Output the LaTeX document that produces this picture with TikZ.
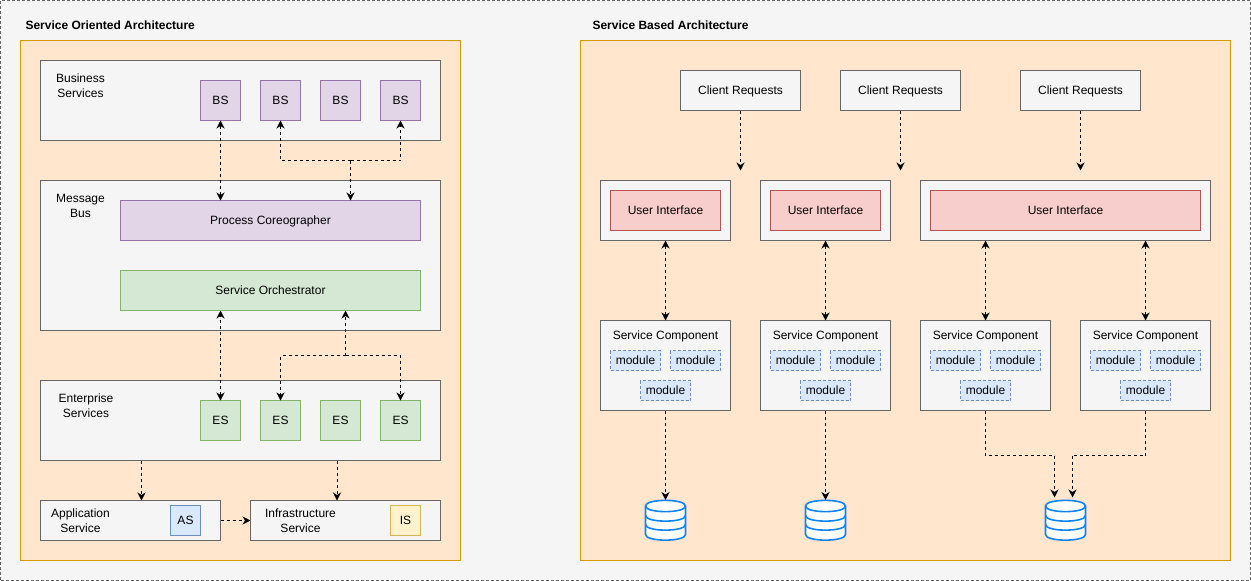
\documentclass[tikz,border=0pt]{standalone}
\usepackage{xcolor}
\usepackage{fontspec}
\setmainfont{Liberation Sans}
\usetikzlibrary{arrows.meta,positioning,calc}
\definecolor{SheetFill}{HTML}{F5F5F5}
\definecolor{SheetRule}{HTML}{666666}
\definecolor{PanelFill}{HTML}{FFE6CC}
\definecolor{PanelRule}{HTML}{D79B00}
\definecolor{PurpleFill}{HTML}{E1D5E7}
\definecolor{PurpleRule}{HTML}{9673A6}
\definecolor{GreenFill}{HTML}{D5E8D4}
\definecolor{GreenRule}{HTML}{82B366}
\definecolor{BlueFill}{HTML}{DAE8FC}
\definecolor{BlueRule}{HTML}{6C8EBF}
\definecolor{YellowFill}{HTML}{FFF2CC}
\definecolor{YellowRule}{HTML}{D6B656}
\definecolor{RedFill}{HTML}{F8CECC}
\definecolor{RedRule}{HTML}{B85450}
\definecolor{DbBlue}{HTML}{0F83F0}

\begin{document}
\begin{tikzpicture}[
  x=1pt,y=-1pt,shift={(0.5,0.5)},
  every node/.style={inner sep=0pt,outer sep=0pt,font=\fontsize{12}{15}\selectfont,align=center},
  box/.style={draw=SheetRule,fill=SheetFill,line width=1pt},
  panel/.style={draw=PanelRule,fill=PanelFill,line width=1pt,minimum width=#1,minimum height=520pt},
  title/.style={anchor=west,font=\fontsize{12}{15}\selectfont\bfseries},
  bsbox/.style={draw=PurpleRule,fill=PurpleFill,line width=1pt,minimum size=40pt},
  esbox/.style={draw=GreenRule,fill=GreenFill,line width=1pt,minimum size=40pt},
  smallbox/.style={line width=1pt,minimum size=30pt},
  uibox/.style={draw=RedRule,fill=RedFill,line width=1pt,minimum height=40pt},
  module/.style={draw=BlueRule,fill=BlueFill,line width=0.8pt,dash pattern=on 3pt off 2pt,minimum width=50pt,minimum height=20pt},
  dbnode/.style={minimum size=41pt},
  nodrop/.style={text depth=0pt},
  flow/.style={dash pattern=on 3pt off 3pt,line width=1pt,-{Stealth[length=8pt,width=8pt,inset=2.5pt]}},
  flowboth/.style={dash pattern=on 3pt off 3pt,line width=1pt,{Stealth[length=8pt,width=8pt,inset=2.5pt]}-{Stealth[length=8pt,width=8pt,inset=2.5pt]}},
  flowline/.style={dash pattern=on 3pt off 3pt,line width=1pt},
  pics/dbicon/.style={code={
    \draw[draw=DbBlue,fill=white,line width=1.6pt,line join=round]
      (-20,-14.5) -- (-20,14) .. controls (-20,21.5) and (20,21.5) .. (20,14) -- (20,-14.5)
      .. controls (20,-22) and (-20,-22) .. (-20,-14.5) -- cycle;
    \draw[draw=DbBlue,line width=1.6pt]
      (-20,-14.5) .. controls (-20,-7) and (20,-7) .. (20,-14.5)
      (-20,-5) .. controls (-20,2.5) and (20,2.5) .. (20,-5)
      (-20,4) .. controls (-20,11.5) and (20,11.5) .. (20,4);
  }}
]
\useasboundingbox (-0.5,-0.5) rectangle (1250.5,580.5);
\node[draw=SheetRule,fill=SheetFill,line width=0.8pt,dash pattern=on 3pt off 2pt,minimum width=1249.5pt,minimum height=580pt,anchor=north west] (sheet) at (0,0) {};

% left side
\node[title] (soatitle) at (25,24.5) {Service Oriented Architecture};
\node[panel=440pt] (soa) at (240,300) {};

\node[box,minimum width=400pt,minimum height=80pt] (bsgroup) at (240,100) {};
\node (bslabel) at (80,85) {Business\\Services};
\node[bsbox] (bs1) at (220,100) {BS};
\node[bsbox,right=20pt of bs1] (bs2) {BS};
\node[bsbox,right=20pt of bs2] (bs3) {BS};
\node[bsbox,right=20pt of bs3] (bs4) {BS};

\node[box,minimum width=400pt,minimum height=150pt] (bus) at (240,255) {};
\node (buslabel) at (80,205) {Message\\Bus};
\node[draw=PurpleRule,fill=PurpleFill,line width=1pt,minimum width=300pt,minimum height=40pt,nodrop] (pc) at (270,220) {Process Coreographer};
\node[draw=GreenRule,fill=GreenFill,line width=1pt,minimum width=300pt,minimum height=40pt] (orch) at (270,290) {Service Orchestrator};

\node[box,minimum width=400pt,minimum height=80pt] (esgroup) at (240,420) {};
\node (eslabel) at (85.5,405) {Enterprise\\Services};
\node[esbox] (es1) at (220,420) {ES};
\node[esbox,right=20pt of es1] (es2) {ES};
\node[esbox,right=20pt of es2] (es3) {ES};
\node[esbox,right=20pt of es3] (es4) {ES};

\node[box,minimum width=180pt,minimum height=40pt] (appgroup) at (130,520) {};
\node (applabel) at (80,520) {Application\\Service};
\node[smallbox,draw=BlueRule,fill=BlueFill] (as) at (185,520) {AS};
\node[box,minimum width=190pt,minimum height=40pt] (infragroup) at (345,520) {};
\node (infralabel) at (300,520) {Infrastructure\\Service};
\node[smallbox,draw=YellowRule,fill=YellowFill] (is) at (405,520) {IS};

\coordinate (bshub) at (350,160);
\coordinate (eshub) at (345,355);
\coordinate (astap) at (141,0);
\coordinate (istap) at (336.5,0);

\draw[flowboth] (bs1.south) -- (bs1.south |- pc.north);
\draw[flow] (bshub) -| (bs2.south);
\draw[flow] (bshub) -| (bs4.south);
\draw[flow] (bshub) -- (pc.north -| bshub);
\draw[flowboth] (es1.north) -- (es1.north |- orch.south);
\draw[flow] (eshub) -| (es2.north);
\draw[flow] (eshub) -| (es4.north);
\draw[flow] (eshub) -- (orch.south -| eshub);
\draw[flow] (esgroup.south -| astap) -- (appgroup.north -| astap);
\draw[flow] (esgroup.south -| istap) -- (infragroup.north -| istap);
\draw[flow] (appgroup.east) -- (infragroup.west);

% right side
\node[title] (sbatitle) at (592,24.5) {Service Based Architecture};
\node[panel=650pt] (sba) at (905,300) {};

\node[box,minimum width=120pt,minimum height=40pt,nodrop] (cr1) at (740,90) {Client Requests};
\node[box,minimum width=120pt,minimum height=40pt,nodrop] (cr2) at (900,90) {Client Requests};
\node[box,minimum width=120pt,minimum height=40pt,nodrop] (cr3) at (1080,90) {Client Requests};
\coordinate[below=60pt of cr1.south] (cr1end);
\coordinate[below=60pt of cr2.south] (cr2end);
\coordinate[below=60pt of cr3.south] (cr3end);

\node[box,minimum width=130pt,minimum height=60pt] (ui1) at (665,210) {};
\node[uibox,minimum width=110pt] (uii1) at (ui1) {User Interface};
\node[box,minimum width=130pt,minimum height=60pt] (ui2) at (825,210) {};
\node[uibox,minimum width=110pt] (uii2) at (ui2) {User Interface};
\node[box,minimum width=290pt,minimum height=60pt] (ui3) at (1065,210) {};
\node[uibox,minimum width=270pt] (uii3) at (ui3) {User Interface};

\node[box,minimum width=130pt,minimum height=90pt] (sc1) at (665,365) {};
\node[nodrop] (sc1label) at ($(sc1.north)+(0,15)$) {Service Component};
\node[module] (m1a) at ($(sc1.north)+(-30,40)$) {module};
\node[module,right=10pt of m1a] (m1b) {module};
\node[module] (m1c) at ($(sc1.north)+(0,70)$) {module};

\node[box,minimum width=130pt,minimum height=90pt] (sc2) at (825,365) {};
\node[nodrop] (sc2label) at ($(sc2.north)+(0,15)$) {Service Component};
\node[module] (m2a) at ($(sc2.north)+(-30,40)$) {module};
\node[module,right=10pt of m2a] (m2b) {module};
\node[module] (m2c) at ($(sc2.north)+(0,70)$) {module};

\node[box,minimum width=130pt,minimum height=90pt] (sc3) at (985,365) {};
\node[nodrop] (sc3label) at ($(sc3.north)+(0,15)$) {Service Component};
\node[module] (m3a) at ($(sc3.north)+(-30,40)$) {module};
\node[module,right=10pt of m3a] (m3b) {module};
\node[module] (m3c) at ($(sc3.north)+(0,70)$) {module};

\node[box,minimum width=130pt,minimum height=90pt] (sc4) at (1145,365) {};
\node[nodrop] (sc4label) at ($(sc4.north)+(0,15)$) {Service Component};
\node[module] (m4a) at ($(sc4.north)+(-30,40)$) {module};
\node[module,right=10pt of m4a] (m4b) {module};
\node[module] (m4c) at ($(sc4.north)+(0,70)$) {module};

\node[dbnode] (db1) at (665,520) {};
\pic at (db1) {dbicon};
\node[dbnode] (db2) at (825,520) {};
\pic at (db2) {dbicon};
\node[dbnode] (db3) at (1065,520) {};
\pic at (db3) {dbicon};

\coordinate (db3left) at (1054,497);
\coordinate (db3right) at (1072,497);
\coordinate (sc3bend) at (1054,455);
\coordinate (sc4bend) at (1072,455);

\draw[flow] (cr1.south) -- (cr1end);
\draw[flow] (cr2.south) -- (cr2end);
\draw[flow] (cr3.south) -- (cr3end);
\draw[flowboth] (ui1.south) -- (sc1.north);
\draw[flowboth] (ui2.south) -- (sc2.north);
\draw[flowboth] (ui3.south -| sc3.north) -- (sc3.north);
\draw[flowboth] (ui3.south -| sc4.north) -- (sc4.north);
\draw[flow] (sc1.south) -- (db1.north);
\draw[flow] (sc2.south) -- (db2.north);
\draw[flowline] (sc3.south) |- (sc3bend);
\draw[flow] (sc3bend) -- (db3left);
\draw[flowline] (sc4.south) |- (sc4bend);
\draw[flow] (sc4bend) -- (db3right);
\end{tikzpicture}
\end{document}
